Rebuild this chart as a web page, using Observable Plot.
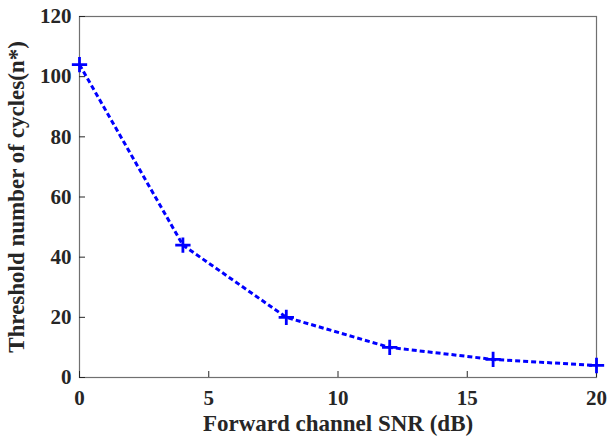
<!DOCTYPE html>
<html>
<head>
<meta charset="utf-8">
<script src="https://cdn.jsdelivr.net/npm/d3@7"></script>
<script src="https://cdn.jsdelivr.net/npm/@observablehq/plot@0.6"></script>
<style>
  html, body { margin: 0; padding: 0; background: #fff; }
  #chart svg { display: block; }
</style>
</head>
<body>
<div id="chart"></div>
<script>
const snr = [0, 4, 8, 12, 16, 20];
const threshold = [104, 44, 20, 10, 6, 4];
const xTicks = [0, 5, 10, 15, 20];
const yTicks = [0, 20, 40, 60, 80, 100, 120];
const xLabel = "Forward channel SNR (dB)";
const yLabel = "Threshold number of cycles(n*)";

const data = snr.map((x, i) => ({x, y: threshold[i]}));
const blue = "#0000ff";
const ink = "#262626";
const axisGray = "#707070";
const font = "'Liberation Serif', 'Times New Roman', serif";

const chart = Plot.plot({
  width: 608,
  height: 436,
  marginLeft: 79,
  marginRight: 12,
  marginTop: 16,
  marginBottom: 59,
  style: {fontFamily: font, fontWeight: "bold", fontSize: "21px", color: ink, background: "#fff"},
  x: {domain: [0, 20]},
  y: {domain: [0, 120]},
  marks: [
    Plot.frame({stroke: axisGray, strokeWidth: 1.2}),
    // inward ticks
    Plot.axisX(xTicks, {tickSize: 6, dy: -6, text: null, label: null, stroke: ink, strokeWidth: 1}),
    Plot.axisY(yTicks, {tickSize: 6, dx: 6, text: null, label: null, stroke: ink, strokeWidth: 1}),
    // tick labels
    Plot.axisX(xTicks, {tickSize: 0, tickPadding: 13, fontSize: 21, fill: ink, label: null}),
    Plot.axisY(yTicks, {tickSize: 0, tickPadding: 8, fontSize: 21, fill: ink, label: null}),
    // axis titles
    Plot.axisX([], {tickSize: 0, fontSize: 23, fill: ink, dx: 7,
      label: xLabel, labelAnchor: "center", labelArrow: "none", labelOffset: 53}),
    Plot.axisY([], {tickSize: 0, fontSize: 23, fill: ink, dy: -2,
      label: yLabel, labelAnchor: "center", labelArrow: "none", labelOffset: 72}),
    Plot.line(data, {x: "x", y: "y", stroke: blue, strokeWidth: 3, strokeDasharray: "5,3", strokeLinecap: "butt"}),
    Plot.dot(data, {x: "x", y: "y", symbol: "plus", r: 5, stroke: blue, strokeWidth: 2.8})
  ]
});
document.getElementById("chart").appendChild(chart);
</script>
</body>
</html>
